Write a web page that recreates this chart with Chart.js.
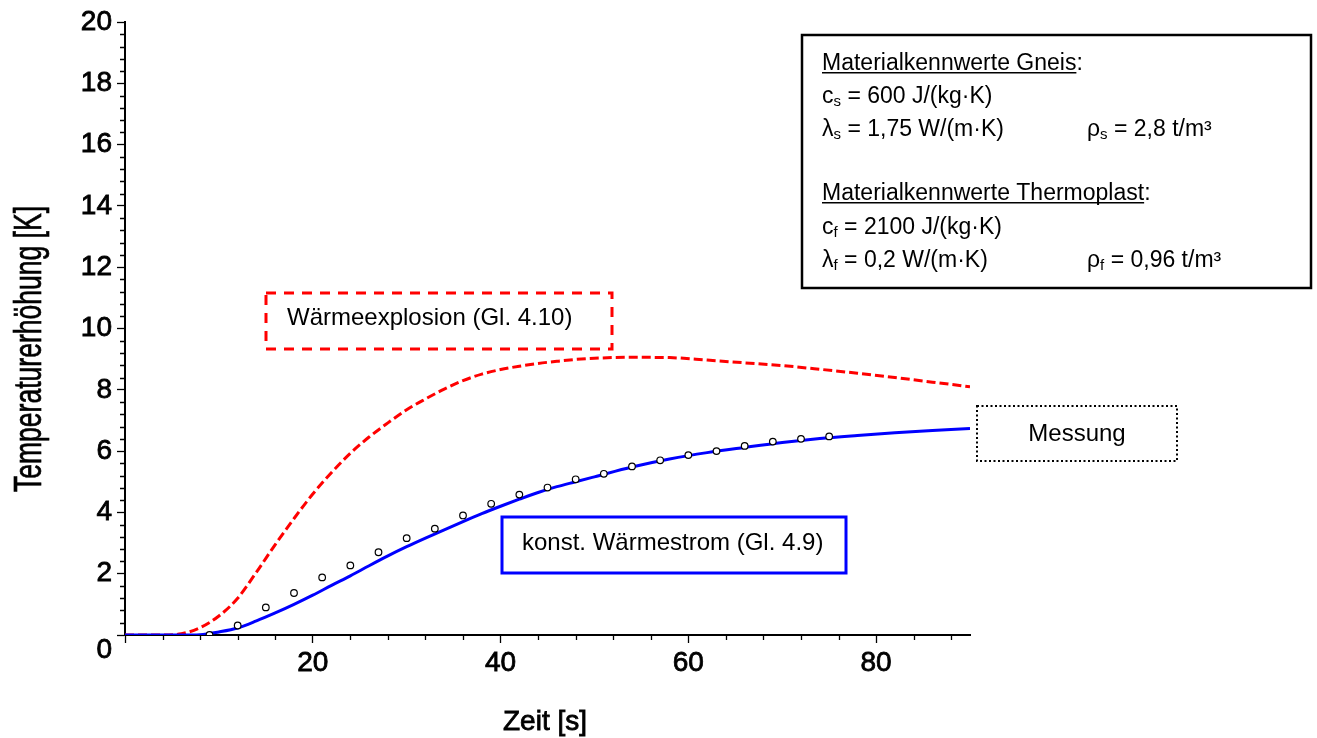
<!DOCTYPE html>
<html>
<head>
<meta charset="utf-8">
<script src="https://cdn.jsdelivr.net/npm/chart.js@4/dist/chart.umd.min.js"></script>
<style>
 body{margin:0;background:#fff;}
 canvas{display:block;}
</style>
</head>
<body>
<canvas id="chart" width="1317" height="738"></canvas>
<script>

// Zeit [s] for the two computed curves
const zeitKurve = [0,2,4,6,8,10,12,14,16,18,20,22,24,26,28,30,32,34,36,38,40,42,44,46,48,50,54,58,62,66,70,74,78,82,86,90];
// konst. Waermestrom (Gl. 4.9)
const konstWaermestrom = [0,0,0,0,0.01,0.1,0.23,0.46,0.72,1.0,1.3,1.62,1.93,2.26,2.58,2.88,3.16,3.43,3.7,3.96,4.2,4.43,4.65,4.84,5.0,5.16,5.48,5.74,5.95,6.12,6.28,6.41,6.51,6.6,6.67,6.74];
// Waermeexplosion (Gl. 4.10)
const waermeexplosion = [0,0,0,0.04,0.24,0.62,1.2,2.05,2.95,3.8,4.6,5.3,5.93,6.46,6.92,7.35,7.7,8.02,8.3,8.51,8.66,8.77,8.86,8.93,8.99,9.03,9.06,9.05,8.97,8.88,8.79,8.67,8.54,8.4,8.25,8.1];
// Messung
const zeitMessung = [9,12,15,18,21,24,27,30,33,36,39,42,45,48,51,54,57,60,63,66,69,72,75];
const messung = [0.0,0.31,0.9,1.37,1.88,2.27,2.7,3.16,3.47,3.9,4.28,4.58,4.81,5.08,5.26,5.5,5.7,5.87,6.0,6.17,6.31,6.4,6.48];

const FONT = '"Liberation Sans", Arial, sans-serif';

function isMajorY(v){ return Math.abs(v/2 - Math.round(v/2)) < 1e-6; }
function isMajorX(v){ return Math.abs(v/20 - Math.round(v/20)) < 1e-6; }

function pts(xs, ys){ return xs.map((x,i)=>({x:x, y:ys[i]})); }

// boxes, info panel, axis titles, minor ticks
const overlay = {
  id:'overlay',
  afterDraw(chart){
    const ctx = chart.ctx;
    const sx = chart.scales.x, sy = chart.scales.y;
    const area = chart.chartArea;
    ctx.save();

    // minor ticks
    ctx.strokeStyle = '#000';
    ctx.lineWidth = 1.3;
    ctx.beginPath();
    sy.ticks.forEach(t=>{
      if(isMajorY(t.value)) return;
      const p = Math.round(sy.getPixelForValue(t.value)) + 0.5;
      ctx.moveTo(area.left - 5, p); ctx.lineTo(area.left, p);
    });
    sx.ticks.forEach(t=>{
      if(isMajorX(t.value)) return;
      const p = Math.round(sx.getPixelForValue(t.value)) + 0.5;
      ctx.moveTo(p, area.bottom); ctx.lineTo(p, area.bottom + 5);
    });
    ctx.stroke();

    // "0" of the y axis sits below the corner
    ctx.fillStyle = '#000';
    ctx.lineWidth = 0.8;
    ctx.font = '28px ' + FONT;
    ctx.textAlign = 'right';
    ctx.textBaseline = 'alphabetic';
    ctx.fillText('0', 112, 658);
    ctx.strokeText('0', 112, 658);

    // axis titles
    ctx.textAlign = 'center';
    ctx.fillText('Zeit [s]', 545, 730);
    ctx.strokeText('Zeit [s]', 545, 730);
    ctx.save();
    ctx.translate(41, 349);
    ctx.rotate(-Math.PI/2);
    ctx.scale(0.68, 1);
    ctx.font = '39px ' + FONT;
    ctx.lineWidth = 0.7;
    ctx.fillText('Temperaturerhöhung [K]', 0, 0);
    ctx.strokeText('Temperaturerhöhung [K]', 0, 0);
    ctx.restore();

    function box(x0,y0,x1,y1,color,dash,lw){
      ctx.save();
      ctx.strokeStyle = color;
      ctx.lineWidth = lw;
      ctx.setLineDash(dash);
      ctx.strokeRect(x0, y0, x1-x0, y1-y0);
      ctx.restore();
    }

    // legend boxes
    box(266, 293, 612, 349, '#ff0000', [10,8], 3);
    box(502, 517, 846, 573, '#0000ff', [], 3);
    box(977, 406, 1177, 461, '#000', [2,2.5], 2);

    ctx.font = '24px ' + FONT;
    ctx.textAlign = 'left';
    ctx.fillText('Wärmeexplosion (Gl. 4.10)', 287, 325);
    ctx.fillText('konst. Wärmestrom (Gl. 4.9)', 522, 550);
    ctx.textAlign = 'center';
    ctx.fillText('Messung', 1077, 441);

    // info panel
    box(802, 35, 1311, 288, '#000', [], 2.5);
    ctx.textAlign = 'left';
    function runs(x, yb, parts){
      parts.forEach(p=>{
        const sub = p[1] === 's';
        ctx.font = (sub ? '15px ' : '23px ') + FONT;
        ctx.fillText(p[0], x, yb + (sub ? 3 : 0));
        const w = ctx.measureText(p[0]).width;
        if(p[1] === 'u'){
          ctx.fillRect(x, yb + 2, w, 1.5);
        }
        x += w;
      });
    }
    runs(822, 70, [['Materialkennwerte Gneis','u'],[':','']]);
    runs(822, 103, [['c',''],['s','s'],[' = 600 J/(kg·K)','']]);
    runs(822, 136, [['λ',''],['s','s'],[' = 1,75 W/(m·K)','']]);
    runs(1087, 136, [['ρ',''],['s','s'],[' = 2,8 t/m³','']]);
    runs(822, 200, [['Materialkennwerte Thermoplast','u'],[':','']]);
    runs(822, 234, [['c',''],['f','s'],[' = 2100 J/(kg·K)','']]);
    runs(822, 267, [['λ',''],['f','s'],[' = 0,2 W/(m·K)','']]);
    runs(1087, 267, [['ρ',''],['f','s'],[' = 0,96 t/m³','']]);

    ctx.restore();
  }
};

new Chart(document.getElementById('chart'), {
  type:'line',
  data:{
    datasets:[
      {
        label:'Messung',
        data: pts(zeitMessung, messung),
        showLine:false,
        pointRadius:3.3,
        pointBorderWidth:1.2,
        pointBorderColor:'#000',
        pointBackgroundColor:'#fff'
      },
      {
        label:'konst. Wärmestrom (Gl. 4.9)',
        data: pts(zeitKurve, konstWaermestrom),
        borderColor:'#0000ff',
        borderWidth:3,
        pointRadius:0,
        cubicInterpolationMode:'monotone'
      },
      {
        label:'Wärmeexplosion (Gl. 4.10)',
        data: pts(zeitKurve, waermeexplosion),
        borderColor:'#ff0000',
        borderWidth:3,
        borderDash:[9,4],
        pointRadius:0,
        cubicInterpolationMode:'monotone'
      }
    ]
  },
  options:{
    responsive:false,
    animation:false,
    layout:{padding:{left:0, top:22, right:347, bottom:0}},
    plugins:{legend:{display:false}, tooltip:{enabled:false}},
    scales:{
      x:{
        type:'linear',
        min:0, max:90,
        afterFit(s){ s.height = 103; },
        afterBuildTicks(s){ s.ticks = s.ticks.filter(t => Math.abs(t.value/4 - Math.round(t.value/4)) < 1e-6); },
        border:{display:true, color:'#000', width:2},
        grid:{
          drawOnChartArea:false, drawTicks:true, tickLength:8, tickWidth:1.3,
          tickColor: c => (c.tick && isMajorX(c.tick.value)) ? '#000' : 'rgba(0,0,0,0)'
        },
        ticks:{
          stepSize:4, includeBounds:false, autoSkip:false, maxRotation:0,
          padding:3, color:'#000', font:{family:FONT, size:28},
          textStrokeColor:'#000', textStrokeWidth:0.8,
          callback: v => (isMajorX(v) && v !== 0) ? String(v) : ''
        }
      },
      y:{
        min:0, max:20,
        afterFit(s){ s.width = 125; },
        border:{display:true, color:'#000', width:2},
        grid:{
          drawOnChartArea:false, drawTicks:true, tickLength:8, tickWidth:1.3,
          tickColor: c => (c.tick && isMajorY(c.tick.value)) ? '#000' : 'rgba(0,0,0,0)'
        },
        ticks:{
          stepSize:0.4, includeBounds:false, autoSkip:false,
          padding:5, color:'#000', font:{family:FONT, size:28},
          textStrokeColor:'#000', textStrokeWidth:0.8,
          callback: v => (isMajorY(v) && v !== 0) ? String(Math.round(v)) : ''
        }
      }
    }
  },
  plugins:[overlay]
});
</script>
</body>
</html>
